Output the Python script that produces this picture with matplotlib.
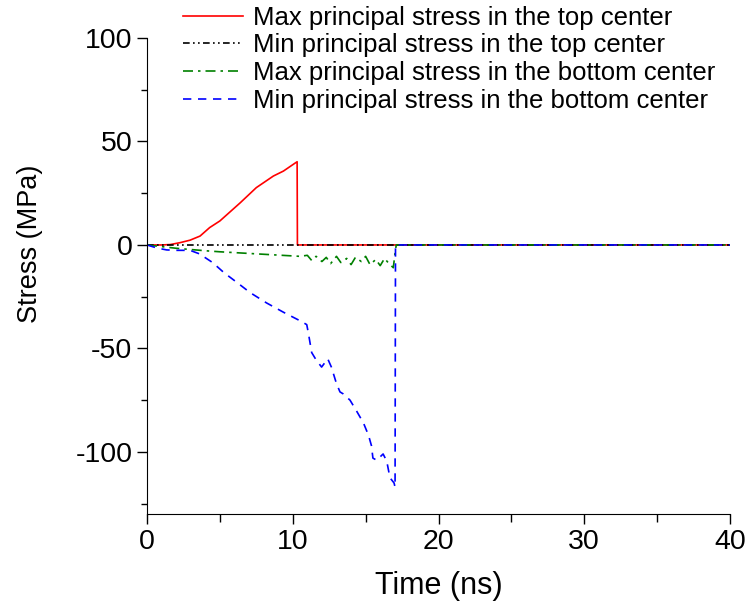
import matplotlib
matplotlib.use("Agg")
import matplotlib.pyplot as plt
from matplotlib.ticker import MultipleLocator

plt.rcParams['font.family'] = ['Liberation Sans', 'DejaVu Sans']
plt.rcParams['axes.unicode_minus'] = False

# max principal stress, top center
t_max_top = [0, 1.0, 1.6, 2.26, 2.95, 3.64, 4.3, 5.0, 5.7, 6.4, 7.5, 8.67, 9.36, 10.15, 10.3, 10.32, 40]
s_max_top = [0, 0, 0.2, 1.1, 2.3, 4.3, 8.4, 11.6, 16.0, 20.4, 27.7, 33.3, 35.7, 39.5, 40.2, 0, 0]

# min principal stress, top center
t_min_top = [0, 40]
s_min_top = [0, 0]

# max principal stress, bottom center
t_max_bot = [0, 1, 2, 3, 4, 5, 6, 7, 8, 9, 10, 10.5, 11, 11.3, 11.6, 12, 12.3, 12.6,
             13, 13.3, 13.7, 14, 14.3, 14.7, 15, 15.3, 15.7, 16, 16.3, 16.6, 16.9, 17.0, 17.1, 40]
s_max_bot = [0, -0.8, -1.6, -2.2, -2.8, -3.3, -3.7, -4.1, -4.5, -4.9, -5.3, -5.5, -5.0, -7.5,
             -5.5, -8.0, -6.0, -9.0, -5.5, -8.5, -6.5, -9.5, -6.0, -8.0, -5.5, -9.5, -7.0,
             -10.0, -6.5, -9.0, -11.0, -5.0, 0, 0]

# min principal stress, bottom center
t_min_bot = [0, 0.7, 1.35, 2.0, 2.95, 3.6, 4.5, 5.3, 6.15, 7.07, 8.2, 9.36, 10.6, 10.96,
             11.07, 11.3, 11.6, 11.98, 12.4, 12.65, 13.0, 13.24, 13.47, 13.93, 14.4, 14.85,
             15.2, 15.4, 15.5, 15.76, 16.2, 16.45, 16.67, 16.95, 17.02, 17.05, 40]
s_min_bot = [0, -1.5, -2.4, -2.6, -2.6, -4.3, -8.5, -13.5, -18, -23, -28, -32.5, -37, -38.5,
             -42.5, -52, -55.5, -59, -55, -59, -67, -71, -72, -75, -80.5, -86, -92, -97,
             -103, -104, -101, -104.5, -112.5, -115, -117, 0, 0]

labels = ["Max principal stress in the top center",
          "Min principal stress in the top center",
          "Max principal stress in the bottom center",
          "Min principal stress in the bottom center"]

fig = plt.figure(figsize=(7.47, 6.09), dpi=100)
ax = fig.add_axes([147 / 747, 1 - 514 / 609, (730 - 147) / 747, (514 - 38) / 609])

lw = 1.2
ax.plot(t_max_top, s_max_top, color="#ff0000", lw=lw, label=labels[0])
ax.plot(t_min_top, s_min_top, color="black", lw=lw, linestyle=(0, (4, 2, 1, 2, 1, 2)), label=labels[1])
ax.plot(t_max_bot, s_max_bot, color="#008000", lw=lw, linestyle=(0, (6, 3, 1.5, 3)), label=labels[2])
ax.plot(t_min_bot, s_min_bot, color="#0000ff", lw=lw, linestyle=(0, (5, 4)), label=labels[3])

ax.set_xlim(0, 40)
ax.set_ylim(-130, 100)
ax.spines["top"].set_visible(False)
ax.spines["right"].set_visible(False)
ax.xaxis.set_major_locator(MultipleLocator(10))
ax.xaxis.set_minor_locator(MultipleLocator(5))
ax.yaxis.set_major_locator(MultipleLocator(50))
ax.yaxis.set_minor_locator(MultipleLocator(25))
ax.tick_params(which="major", direction="out", length=7, width=1, labelsize=20.5)
ax.tick_params(which="minor", direction="out", length=4, width=1)
ax.tick_params(axis="x", which="minor", length=6)

ax.set_xlabel("Time (ns)", fontsize=22, labelpad=12)
ax.set_ylabel("Stress (MPa)", fontsize=19.5)
ax.yaxis.set_label_coords(-0.178, (514 - 244) / 476)

leg = fig.legend(loc="upper left", bbox_to_anchor=(180 / 747, 1 - 3 / 609), frameon=False,
                 fontsize=18.5, handlelength=2.35, handletextpad=0.4, labelspacing=0.15,
                 borderpad=0.1, borderaxespad=0)

fig.savefig("out.png", dpi=100)
